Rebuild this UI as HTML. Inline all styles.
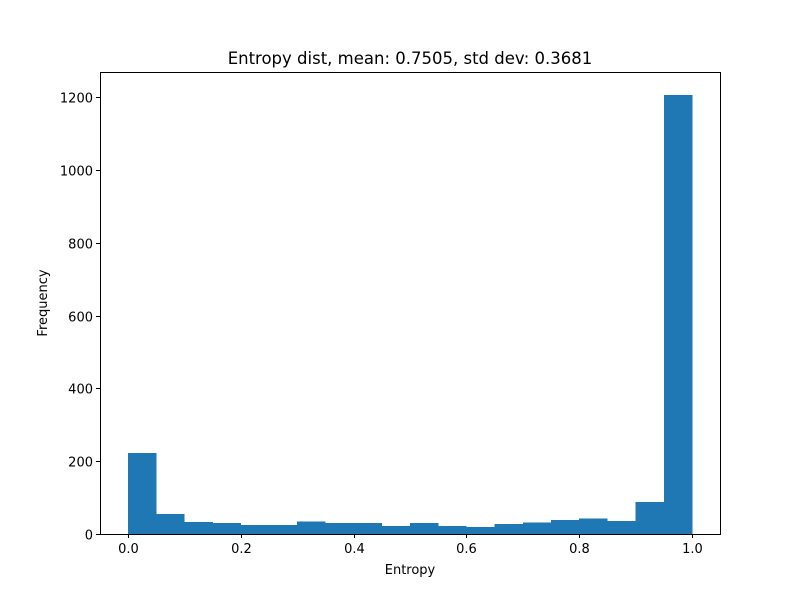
<!DOCTYPE html>
<html><head><meta charset="utf-8"><style>
body{margin:0;background:#fff;}
svg text{font-family:"DejaVu Sans","Liberation Sans",sans-serif;fill:#000;}
</style></head><body>
<svg id="chart" width="800" height="600" xmlns="http://www.w3.org/2000/svg">
<rect width="800" height="600" fill="#fff"/>
<text x="410" y="64" font-size="16.5" text-anchor="middle">Entropy dist, mean: 0.7505, std dev: 0.3681</text>
<g id="bars" shape-rendering="crispEdges"></g>
<g id="axes" shape-rendering="crispEdges"></g>
<text x="410" y="574" font-size="13" text-anchor="middle">Entropy</text>
<text x="47" y="303" font-size="13" text-anchor="middle" transform="rotate(-90 47 303)">Frequency</text>
</svg>
<script>
const binStarts=[0,0.05,0.1,0.15,0.2,0.25,0.3,0.35,0.4,0.45,0.5,0.55,0.6,0.65,0.7,0.75,0.8,0.85,0.9,0.95];
const counts=[222,55,33,30,25,25,35,30,30,22,30,22,19,27,32,38,42,36,88,1205];
const binWidth=0.05;
const xTicks=[0,0.2,0.4,0.6,0.8,1.0];
const xTickLabels=["0.0","0.2","0.4","0.6","0.8","1.0"];
const yTicks=[0,200,400,600,800,1000,1200];
const NS="http://www.w3.org/2000/svg";
const L=100,R=720,T=72,B=534;
const xs=v=>128+v*564;
const ys=v=>534-v*(437/1200);
const bars=document.getElementById('bars');
binStarts.forEach((s,i)=>{
  const r=document.createElementNS(NS,'rect');
  r.setAttribute('x',xs(s));r.setAttribute('width',xs(s+binWidth)-xs(s)+0.3);
  r.setAttribute('y',ys(counts[i]));r.setAttribute('height',ys(0)-ys(counts[i]));
  r.setAttribute('fill','#1f77b4');
  
  
  bars.appendChild(r);
});
const ax=document.getElementById('axes');
function line(x1,y1,x2,y2){const l=document.createElementNS(NS,'line');l.setAttribute('x1',x1);l.setAttribute('y1',y1);l.setAttribute('x2',x2);l.setAttribute('y2',y2);l.setAttribute('stroke','#000');l.setAttribute('stroke-width','1');ax.appendChild(l);return l;}
function txt(x,y,s,a){const t=document.createElementNS(NS,'text');t.setAttribute('x',x);t.setAttribute('y',y);t.setAttribute('font-size','13');t.setAttribute('text-anchor',a);t.textContent=s;ax.appendChild(t);return t;}
const frame=document.createElementNS(NS,'rect');
frame.setAttribute('x',L+0.5);frame.setAttribute('y',T+0.5);frame.setAttribute('width',R-L);frame.setAttribute('height',B-T);
frame.setAttribute('fill','none');frame.setAttribute('stroke','#000');


ax.appendChild(frame);
xTicks.forEach((v,i)=>{
  const x=Math.round(xs(v))+0.5;
  const l=line(x,B,x,B+4);
  
  
  const t=txt(x,B+19,xTickLabels[i],'middle');
  
  
});
yTicks.forEach(v=>{
  const y=Math.round(ys(v))+0.5;
  const l=line(L-4,y,L,y);
  
  
  const t=txt(L-7,y+5,String(v),'end');
  
  
});
</script>
</body></html>
